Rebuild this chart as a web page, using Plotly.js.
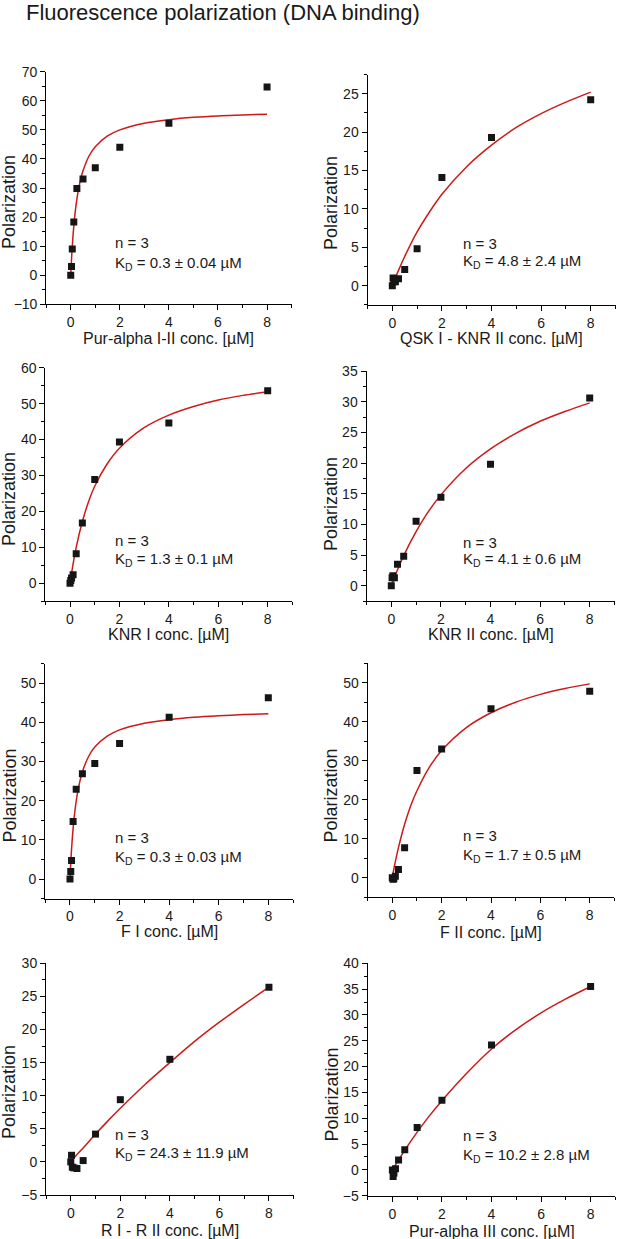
<!DOCTYPE html>
<html>
<head>
<meta charset="utf-8">
<script src="https://cdn.plot.ly/plotly-3.0.1.min.js"></script>
<style>html,body{margin:0;padding:0;background:#fff;}#chart{width:617px;height:1239px;}</style>
</head>
<body>
<div id="chart"></div>
<script>
// ---- data ----
const conc = [0, 0.03125, 0.0625, 0.125, 0.25, 0.5, 1, 2, 4, 8];
const polPurAlphaI_II = [0, 3.0, 9.0, 18.3, 29.8, 33.1, 37.0, 44.0, 52.3, 64.7];
const polQSKI_KNRII   = [0, 1.0, 0.5, 0.5, 0.9, 2.1, 4.8, 14.1, 19.3, 24.2];
const polKNRI         = [0, 0.8, 1.5, 2.4, 8.2, 16.8, 28.9, 39.3, 44.6, 53.6];
const polKNRII        = [0, 1.3, 1.6, 1.3, 3.5, 4.8, 10.5, 14.4, 19.8, 30.6];
const polFI           = [0, 1.9, 4.7, 14.7, 22.9, 26.9, 29.5, 34.6, 41.3, 46.3];
const polFII          = [0, -0.4, -0.3, 0.4, 2.1, 7.7, 27.5, 33.0, 43.3, 47.8];
const polRI_RII       = [0, 1.0, -0.8, -0.9, -1.0, 0.2, 4.2, 9.4, 15.5, 26.4];
const polPurAlphaIII  = [0, -1.3, -0.6, 0.2, 1.9, 3.9, 8.2, 13.5, 24.2, 35.5];

// fitted curves
const fitXFast = [0, 0.025, 0.05, 0.1, 0.15, 0.2, 0.3, 0.4, 0.5, 0.75, 1, 1.5, 2, 3, 4, 5, 6, 7, 8];
const fitPurAlphaI_II = [0, 4.4, 8.2, 14.4, 19.2, 23.0, 28.8, 32.9, 35.9, 41.1, 44.2, 47.9, 50.0, 52.3, 53.5, 54.3, 54.8, 55.1, 55.4];
const fitFI           = [0, 3.4, 6.3, 11.0, 14.6, 17.5, 21.9, 25.0, 27.4, 31.3, 33.7, 36.5, 38.1, 39.8, 40.7, 41.3, 41.7, 42.0, 42.2];
const fitXMid = [0, 0.1, 0.25, 0.5, 0.75, 1, 1.5, 2, 3, 4, 5, 6, 7, 8];
const fitKNRI = [0, 4.4, 10.0, 17.2, 22.7, 27.0, 33.2, 37.6, 43.3, 46.8, 49.2, 51.0, 52.3, 53.3];
const fitFII  = [0, 3.4, 7.7, 13.7, 18.5, 22.3, 28.3, 32.6, 38.5, 42.3, 45.0, 47.0, 48.5, 49.7];
const fitXSlow = [0, 0.25, 0.5, 1, 1.5, 2, 3, 4, 5, 6, 7, 8];
const fitQSKI_KNRII  = [0, 2.0, 3.8, 7.0, 9.6, 11.9, 15.5, 18.3, 20.6, 22.4, 23.9, 25.2];
const fitKNRII       = [0, 2.6, 4.9, 8.8, 12.1, 14.8, 19.1, 22.3, 24.8, 26.8, 28.4, 29.8];
const fitRI_RII      = [0, 1.1, 2.1, 4.2, 6.2, 8.1, 11.7, 15.0, 18.2, 21.1, 23.8, 26.4];
const fitPurAlphaIII = [0, 1.9, 3.8, 7.3, 10.5, 13.4, 18.7, 23.4, 27.2, 30.4, 33.1, 35.5];

const xLabels = ['Pur-alpha I-II conc. [µM]', 'QSK I - KNR II conc. [µM]', 'KNR I conc. [µM]', 'KNR II conc. [µM]',
                 'F I conc. [µM]', 'F II conc. [µM]', 'R I - R II conc. [µM]', 'Pur-alpha III conc. [µM]'];
const kdLabels = ['0.3 ± 0.04', '4.8 ± 2.4', '1.3 ± 0.1', '4.1 ± 0.6', '0.3 ± 0.03', '1.7 ± 0.5', '24.3 ± 11.9', '10.2 ± 2.8'];
const nLabel = 'n = 3';
const yTitle = 'Polarization';
const mainTitle = 'Fluorescence polarization (DNA binding)';

const pointSeries = [polPurAlphaI_II, polQSKI_KNRII, polKNRI, polKNRII, polFI, polFII, polRI_RII, polPurAlphaIII];
const fitX = [fitXFast, fitXSlow, fitXMid, fitXSlow, fitXFast, fitXMid, fitXSlow, fitXSlow];
const fitY = [fitPurAlphaI_II, fitQSKI_KNRII, fitKNRI, fitKNRII, fitFI, fitFII, fitRI_RII, fitPurAlphaIII];

// ---- layout geometry (pixels) ----
const W = 617, H = 1239;
const px = v => v / W, py = v => 1 - v / H;
// [left, right, top, bottom] pixel boxes of the plot areas
const boxes = [
  [46.2, 291.6, 71.7, 304.3],
  [367.5, 615.5, 74.5, 304.9],
  [45.3, 292.4, 367.7, 601.3],
  [366.5, 614.5, 371.0, 601.0],
  [45.2, 293.1, 663.7, 898.6],
  [367.6, 614.4, 663.2, 897.2],
  [46.0, 293.7, 963.3, 1195.0],
  [367.6, 615.4, 963.3, 1195.7]
];
const yRanges = [[-10, 70], [-2.5, 27.5], [-5, 60], [-2.5, 35], [-5, 55], [-5, 55], [-5, 30], [-5, 40]];
const yDticks = [10, 5, 10, 5, 10, 10, 5, 5];
// annotation anchor positions in data units: [x, y of "n = 3", y of K_D]
const annPos = [[1.74, 11.1, 4.2], [2.78, 5.5, 3.1], [1.75, 11.9, 6.5], [2.82, 7.1, 4.2],
                [1.75, 10.7, 5.6], [2.78, 10.7, 5.8], [1.72, 4.2, 1.2], [2.78, 6.6, 2.7]];
// axis title pixel positions
const yTitlePos = [[9, 202], [331, 203], [9, 499], [331, 504], [9, 795.5], [330, 795.5], [9, 1092], [331, 1094.5]];
const xTitleY = [339, 339, 634, 634, 931, 932, 1230.5, 1231.5];

const FONT = 'Liberation Sans, Arial, Helvetica, sans-serif';
const TXT = '#1a1a1a';

const traces = [];
const layout = {
  width: W, height: H,
  margin: {l: 0, r: 0, t: 0, b: 0},
  paper_bgcolor: '#fff', plot_bgcolor: '#fff',
  showlegend: false,
  font: {family: FONT, color: TXT, size: 14},
  annotations: []
};

for (let i = 0; i < 8; i++) {
  const n = i + 1;
  const sfx = n === 1 ? '' : String(n);
  const b = boxes[i];
  traces.push({
    x: fitX[i], y: fitY[i], xaxis: 'x' + sfx, yaxis: 'y' + sfx,
    mode: 'lines', line: {color: '#cc1a1a', width: 1.5, shape: 'spline', smoothing: 0.8},
    hoverinfo: 'skip'
  });
  traces.push({
    x: conc, y: pointSeries[i], xaxis: 'x' + sfx, yaxis: 'y' + sfx,
    mode: 'markers', marker: {symbol: 'square', size: 7, color: '#151515'}
  });
  layout['xaxis' + sfx] = {
    domain: [px(b[0]), px(b[1])], anchor: 'y' + sfx,
    range: [-1, 9], tickmode: 'linear', tick0: 0, dtick: 2,
    showgrid: false, zeroline: false, showline: true, linecolor: '#000', linewidth: 1,
    ticks: 'outside', ticklen: 5, tickwidth: 1, tickcolor: '#000',
    minor: {dtick: 1, tick0: 0, ticks: 'outside', ticklen: 3, tickcolor: '#000', showgrid: false},
    tickfont: {size: 14, color: TXT, family: FONT}, fixedrange: true
  };
  layout['yaxis' + sfx] = {
    domain: [py(b[3]), py(b[2])], anchor: 'x' + sfx,
    range: yRanges[i], tickmode: 'linear', tick0: 0, dtick: yDticks[i],
    showgrid: false, zeroline: false, showline: true, linecolor: '#000', linewidth: 1,
    ticks: 'outside', ticklen: 5, tickwidth: 1, tickcolor: '#000',
    minor: {dtick: yDticks[i] / 2, tick0: 0, ticks: 'outside', ticklen: 3, tickcolor: '#000', showgrid: false},
    tickfont: {size: 14, color: TXT, family: FONT}, fixedrange: true
  };
  const a = annPos[i];
  layout.annotations.push({
    xref: 'x' + sfx, yref: 'y' + sfx, x: a[0], y: a[1], text: nLabel,
    showarrow: false, xanchor: 'left', yanchor: 'middle', font: {size: 15, color: TXT, family: FONT}
  });
  layout.annotations.push({
    xref: 'x' + sfx, yref: 'y' + sfx, x: a[0], y: a[2], text: 'K<sub>D</sub> = ' + kdLabels[i] + ' µM',
    showarrow: false, xanchor: 'left', yanchor: 'middle', font: {size: 15, color: TXT, family: FONT}
  });
  layout.annotations.push({
    xref: 'paper', yref: 'paper', x: px(yTitlePos[i][0]), y: py(yTitlePos[i][1]), text: yTitle,
    textangle: -90, showarrow: false, xanchor: 'center', yanchor: 'middle',
    font: {size: 18, color: TXT, family: FONT}
  });
  layout.annotations.push({
    xref: 'paper', yref: 'paper', x: px((b[0] + b[1]) / 2), y: py(xTitleY[i]), text: xLabels[i],
    showarrow: false, xanchor: 'center', yanchor: 'middle',
    font: {size: 16, color: TXT, family: FONT}
  });
}
layout.annotations.push({
  xref: 'paper', yref: 'paper', x: px(24), y: py(13), text: mainTitle,
  showarrow: false, xanchor: 'left', yanchor: 'middle',
  font: {size: 22, color: TXT, family: FONT}
});

Plotly.newPlot('chart', traces, layout, {staticPlot: true, displayModeBar: false});
</script>
</body>
</html>
